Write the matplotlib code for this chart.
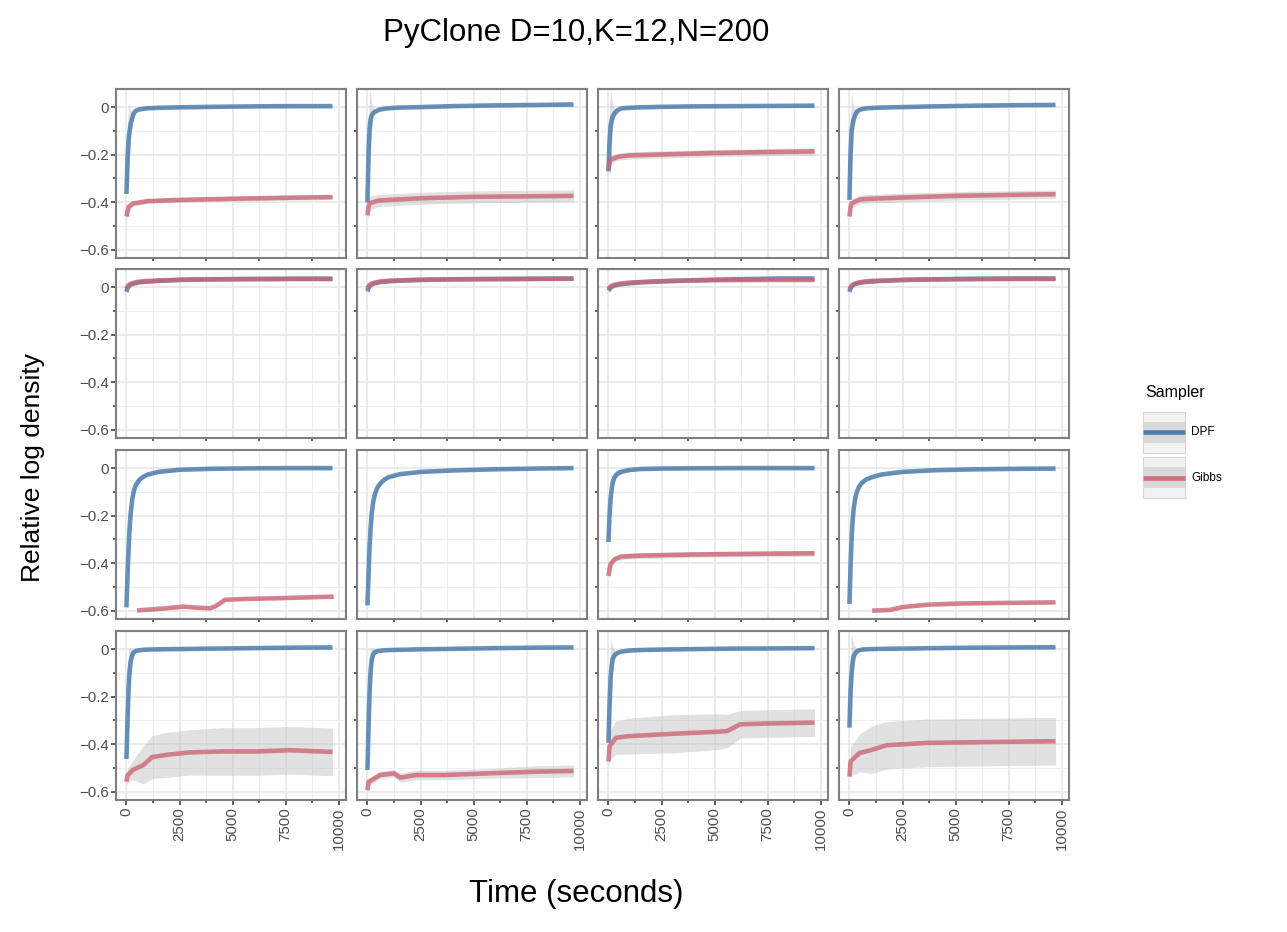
import matplotlib
matplotlib.use("Agg")
import matplotlib.pyplot as plt
from matplotlib.patches import Rectangle
import numpy as np

plt.rcParams['font.family'] = ['Liberation Sans', 'DejaVu Sans']

# ---- data (16 facets, row by row) ----
T_DPF = [0, 50, 100, 150, 200, 275, 350, 450, 600, 800, 1000, 1500, 2500, 4000, 6000, 8000, 9700]

dpf_mean = [
    [-0.365, -0.22, -0.14, -0.10, -0.07, -0.045, -0.025, -0.015, -0.01, -0.007, -0.005, -0.003, -0.001, 0.001, 0.003, 0.004, 0.004],
    [-0.40, -0.20, -0.09, -0.05, -0.035, -0.025, -0.02, -0.015, -0.01, -0.007, -0.005, -0.002, 0.0, 0.004, 0.007, 0.009, 0.011],
    [-0.27, -0.15, -0.08, -0.055, -0.04, -0.028, -0.02, -0.012, -0.006, -0.004, -0.003, -0.001, 0.001, 0.003, 0.004, 0.005, 0.006],
    [-0.39, -0.20, -0.10, -0.07, -0.05, -0.032, -0.02, -0.013, -0.008, -0.005, -0.004, -0.002, 0.0, 0.003, 0.006, 0.008, 0.009],
    [-0.02, -0.005, 0.003, 0.007, 0.01, 0.013, 0.015, 0.017, 0.02, 0.022, 0.023, 0.026, 0.03, 0.033, 0.034, 0.035, 0.035],
    [-0.018, -0.004, 0.004, 0.008, 0.011, 0.014, 0.016, 0.018, 0.021, 0.023, 0.024, 0.027, 0.03, 0.033, 0.034, 0.035, 0.036],
    [-0.015, -0.008, -0.003, 0.0, 0.003, 0.006, 0.008, 0.01, 0.012, 0.014, 0.016, 0.02, 0.024, 0.029, 0.033, 0.036, 0.036],
    [-0.02, -0.006, 0.002, 0.006, 0.01, 0.013, 0.015, 0.017, 0.02, 0.022, 0.023, 0.026, 0.03, 0.033, 0.035, 0.036, 0.036],
    [-0.585, -0.45, -0.34, -0.25, -0.19, -0.13, -0.095, -0.07, -0.05, -0.036, -0.027, -0.016, -0.007, -0.003, -0.001, 0.0, 0.0],
    [-0.577, -0.45, -0.33, -0.25, -0.19, -0.14, -0.11, -0.085, -0.065, -0.048, -0.038, -0.026, -0.016, -0.01, -0.005, -0.002, 0.0],
    [-0.31, -0.20, -0.13, -0.09, -0.06, -0.04, -0.03, -0.022, -0.016, -0.011, -0.008, -0.004, -0.002, -0.001, 0.0, 0.0, 0.0],
    [-0.571, -0.42, -0.30, -0.22, -0.17, -0.125, -0.10, -0.078, -0.06, -0.047, -0.04, -0.027, -0.016, -0.009, -0.005, -0.003, -0.002],
    [-0.462, -0.30, -0.16, -0.09, -0.05, -0.025, -0.013, -0.008, -0.005, -0.003, -0.002, -0.001, 0.0, 0.002, 0.004, 0.006, 0.007],
    [-0.508, -0.33, -0.18, -0.09, -0.045, -0.022, -0.013, -0.009, -0.007, -0.005, -0.004, -0.003, -0.001, 0.001, 0.004, 0.006, 0.007],
    [-0.394, -0.24, -0.12, -0.07, -0.04, -0.027, -0.02, -0.015, -0.011, -0.008, -0.006, -0.004, -0.002, 0.0, 0.002, 0.003, 0.004],
    [-0.33, -0.18, -0.10, -0.055, -0.03, -0.016, -0.01, -0.005, -0.002, -0.001, 0.0, 0.001, 0.002, 0.004, 0.006, 0.007, 0.008],
]

spike = [0.0, 0.13, 0.16, 0.10, 0.05, 0.025, 0.012, 0.007, 0.005, 0.004, 0.004, 0.003, 0.003, 0.003, 0.003, 0.003, 0.003]
flat = [0.01, 0.008, 0.006, 0.006, 0.005, 0.005, 0.005, 0.005, 0.004, 0.004, 0.004, 0.004, 0.004, 0.004, 0.004, 0.004, 0.004]
knee = [0.0, 0.03, 0.03, 0.028, 0.025, 0.02, 0.015, 0.012, 0.01, 0.008, 0.007, 0.005, 0.004, 0.003, 0.003, 0.003, 0.003]
dpf_sd = [spike, spike, spike, spike,
          flat, flat, flat, flat,
          knee, knee, knee, knee,
          spike, spike, spike, spike]

gibbs_time = [
    [0, 50, 100, 300, 1000, 2500, 5000, 7500, 9700],
    [0, 50, 100, 500, 1000, 2500, 5000, 7500, 9700],
    [0, 50, 100, 500, 1000, 2500, 5000, 7500, 9700],
    [0, 50, 100, 500, 1000, 2500, 5000, 7500, 9700],
    [0, 50, 100, 200, 500, 1000, 2500, 5000, 7500, 9700],
    [0, 50, 100, 200, 500, 1000, 2500, 5000, 7500, 9700],
    [0, 50, 100, 200, 500, 1000, 2500, 5000, 7500, 9700],
    [0, 50, 100, 200, 500, 1000, 2500, 5000, 7500, 9700],
    [500, 1600, 2700, 3200, 3950, 4200, 4650, 5500, 7000, 8600, 9750],
    [],
    [0, 100, 300, 600, 1400, 4000, 7200, 9700],
    [1070, 1900, 2500, 3650, 5200, 6800, 9700],
    [0, 50, 300, 800, 1200, 1900, 3000, 4500, 6100, 7700, 9700],
    [0, 50, 600, 1250, 1550, 2300, 3600, 5700, 7900, 9700],
    [0, 50, 350, 900, 3000, 5200, 5600, 6200, 7300, 9700],
    [0, 50, 470, 1100, 1750, 3700, 6900, 9700],
]

gibbs_mean = [
    [-0.46, -0.44, -0.42, -0.405, -0.395, -0.39, -0.385, -0.381, -0.378],
    [-0.455, -0.42, -0.404, -0.393, -0.39, -0.383, -0.377, -0.375, -0.373],
    [-0.262, -0.235, -0.22, -0.208, -0.203, -0.199, -0.193, -0.189, -0.186],
    [-0.46, -0.42, -0.404, -0.388, -0.385, -0.38, -0.373, -0.369, -0.366],
    [-0.007, 0.002, 0.008, 0.014, 0.022, 0.026, 0.031, 0.033, 0.034, 0.034],
    [-0.005, 0.003, 0.009, 0.015, 0.022, 0.027, 0.031, 0.033, 0.034, 0.035],
    [-0.008, -0.002, 0.003, 0.008, 0.014, 0.019, 0.025, 0.029, 0.03, 0.03],
    [-0.01, 0.0, 0.006, 0.013, 0.021, 0.026, 0.03, 0.033, 0.034, 0.034],
    [-0.598, -0.591, -0.582, -0.586, -0.589, -0.58, -0.553, -0.55, -0.547, -0.543, -0.54],
    [],
    [-0.453, -0.403, -0.382, -0.372, -0.368, -0.363, -0.36, -0.358],
    [-0.599, -0.596, -0.584, -0.574, -0.569, -0.567, -0.564],
    [-0.557, -0.53, -0.508, -0.487, -0.454, -0.444, -0.434, -0.43, -0.43, -0.425, -0.432],
    [-0.593, -0.558, -0.529, -0.522, -0.54, -0.529, -0.529, -0.522, -0.515, -0.512],
    [-0.472, -0.408, -0.373, -0.366, -0.356, -0.347, -0.344, -0.316, -0.313, -0.309],
    [-0.536, -0.472, -0.437, -0.422, -0.404, -0.394, -0.39, -0.387],
]

gibbs_sd = [
    [0.01, 0.015, 0.012, 0.01, 0.01, 0.01, 0.01, 0.01, 0.01],
    [0.02, 0.03, 0.03, 0.025, 0.025, 0.025, 0.025, 0.025, 0.025],
    [0.01, 0.015, 0.015, 0.015, 0.015, 0.015, 0.015, 0.015, 0.015],
    [0.015, 0.02, 0.02, 0.018, 0.018, 0.018, 0.018, 0.018, 0.018],
    [0.005, 0.005, 0.005, 0.005, 0.005, 0.005, 0.005, 0.005, 0.005, 0.005],
    [0.005, 0.005, 0.005, 0.005, 0.005, 0.005, 0.005, 0.005, 0.005, 0.005],
    [0.005, 0.005, 0.005, 0.005, 0.005, 0.005, 0.005, 0.005, 0.005, 0.005],
    [0.005, 0.005, 0.005, 0.005, 0.005, 0.005, 0.005, 0.005, 0.005, 0.005],
    [0.004, 0.004, 0.004, 0.004, 0.004, 0.004, 0.004, 0.004, 0.004, 0.004, 0.004],
    [],
    [0.012, 0.015, 0.012, 0.012, 0.012, 0.012, 0.012, 0.012],
    [0.004, 0.004, 0.004, 0.004, 0.004, 0.004, 0.004],
    [0.015, 0.03, 0.04, 0.08, 0.09, 0.095, 0.095, 0.1, 0.1, 0.1, 0.1],
    [0.01, 0.015, 0.015, 0.015, 0.02, 0.02, 0.02, 0.02, 0.025, 0.025],
    [0.03, 0.06, 0.07, 0.075, 0.08, 0.075, 0.07, 0.058, 0.058, 0.058],
    [0.0, 0.06, 0.08, 0.1, 0.1, 0.1, 0.1, 0.1],
]

x_major = [0, 2500, 5000, 7500, 10000]
x_minor = [1250, 3750, 6250, 8750]
y_major = [0, -0.2, -0.4, -0.6]
y_minor = [-0.1, -0.3, -0.5]

DPF_COL = '#4477AA'
GIBBS_COL = '#CC6677'

# ---- layout in pixels ----
W, H = 1287, 932
fig = plt.figure(figsize=(W / 100, H / 100), dpi=100)
col_left = [116, 357, 598, 839]
row_top = [89, 269, 450, 631]
pw, ph = 230, 169

for i in range(16):
    r, c = divmod(i, 4)
    ax = fig.add_axes([col_left[c] / W, 1 - (row_top[r] + ph) / H, pw / W, ph / H])
    ax.set_xlim(-492, 10337)
    ax.set_ylim(-0.634, 0.076)
    ax.set_xticks(x_major)
    ax.set_xticks(x_minor, minor=True)
    ax.set_yticks(y_major)
    ax.set_yticks(y_minor, minor=True)
    ax.set_yticklabels(['0', '\u22120.2', '\u22120.4', '\u22120.6'])
    ax.set_axisbelow(True)
    ax.grid(which='major', color='#e6e6e6', lw=1.1)
    ax.grid(which='minor', color='#efefef', lw=0.7)
    for sp in ax.spines.values():
        sp.set_color('#7f7f7f')
        sp.set_linewidth(1.5)
    ax.tick_params(which='major', length=3.5, width=1.1, color='#333333',
                   labelsize=10.8, labelcolor='#4d4d4d', pad=1.8)
    ax.tick_params(which='minor', length=2.0, width=1.1, color='#333333')
    ax.tick_params(axis='x', which='major', labelrotation=90)
    if c != 0:
        ax.tick_params(axis='y', which='major', length=0, labelleft=False)
    if r != 3:
        ax.tick_params(axis='x', which='major', length=0, labelbottom=False)

    t = np.array(T_DPF)
    m = np.array(dpf_mean[i])
    s = np.array(dpf_sd[i])
    ax.fill_between(t, m - s, m + s, color='#bdbdbd', alpha=0.45, lw=0)
    if gibbs_time[i]:
        gt = np.array(gibbs_time[i])
        gm = np.array(gibbs_mean[i])
        gs = np.array(gibbs_sd[i])
        ax.fill_between(gt, gm - gs, gm + gs, color='#bdbdbd', alpha=0.45, lw=0)
    ax.plot(t, m, color=DPF_COL, lw=3.3, alpha=0.8, solid_capstyle='butt')
    if gibbs_time[i]:
        ax.plot(gt, gm, color=GIBBS_COL, lw=3.3, alpha=0.8, solid_capstyle='butt')

fig.text(576.5 / W, 1 - 33 / H, 'PyClone D=10,K=12,N=200', ha='center', va='center', fontsize=22.5)
fig.text(576.5 / W, 1 - 894 / H, 'Time (seconds)', ha='center', va='center', fontsize=22.5)
fig.text(33 / W, 1 - 467 / H, 'Relative log density', ha='center', va='center',
         rotation=90, fontsize=19)

# ---- legend ----
lg = fig.add_axes([1130 / W, 1 - 510 / H, 130 / W, 130 / H])
lg.set_xlim(1130, 1260)
lg.set_ylim(510, 380)
lg.axis('off')
lg.text(1145, 392, 'Sampler', ha='left', va='center', fontsize=11.5)
for k, (name, col) in enumerate([('DPF', DPF_COL), ('Gibbs', GIBBS_COL)]):
    y0 = 412 + k * 45.5
    lg.add_patch(Rectangle((1143, y0), 42, 41, fc='#f2f2f2', ec='#d6d6d6', lw=0.8))
    lg.add_patch(Rectangle((1143, y0 + 10), 42, 21, fc='#d9d9d9', ec='none'))
    lg.plot([1143, 1185], [y0 + 20.5, y0 + 20.5], color=col, lw=3.3, alpha=0.95,
            solid_capstyle='butt')
    lg.text(1191, y0 + 20.5, name, ha='left', va='center', fontsize=8.5)

fig.savefig('out.png', dpi=100, facecolor='white')
